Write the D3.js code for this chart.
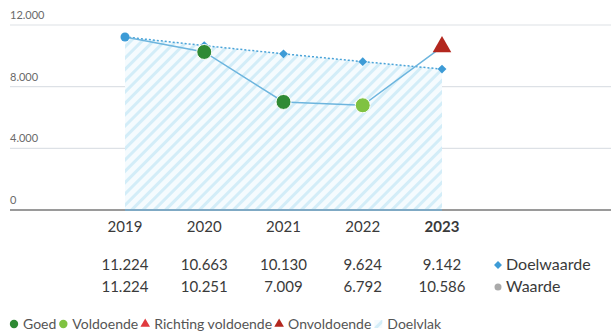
<!DOCTYPE html>
<html><head><meta charset="utf-8">
<script src="https://cdn.jsdelivr.net/npm/d3@7"></script>
<style>body{margin:0;background:#fff;}svg{display:block;font-family:Lato,"Open Sans",sans-serif;}</style>
</head><body><svg id="c" width="611" height="333"></svg>
<script>
const years = ["2019","2020","2021","2022","2023"];
const doelwaarde = [11224, 10663, 10130, 9624, 9142];
const waarde = [11224, 10251, 7009, 6792, 10586];
const status = ["start","goed","goed","voldoende","onvoldoende"];
const yTicks = [0, 4000, 8000, 12000];
const legendItems = [
  {label:"Goed", type:"goed"},
  {label:"Voldoende", type:"voldoende"},
  {label:"Richting voldoende", type:"richting"},
  {label:"Onvoldoende", type:"onvoldoende"},
  {label:"Doelvlak", type:"doelvlak"}
];

const colors = {start:"#3d9bd6", goed:"#2f8a34", voldoende:"#7fc241", richting:"#e03a3e", onvoldoende:"#b3271f"};
const loc = d3.formatLocale({decimal:",", thousands:".", grouping:[3], currency:["",""]});
const fmt = loc.format(",d");

const svg = d3.select("#c");
const defs = svg.append("defs");
const pat = defs.append("pattern").attr("id","hatch").attr("patternUnits","userSpaceOnUse")
  .attr("width",8).attr("height",8).attr("patternTransform","rotate(45)");
pat.append("rect").attr("width",8).attr("height",8).attr("fill","#f5fbfe");
pat.append("rect").attr("width",3).attr("height",8).attr("fill","#d3edf8");

const x = d3.scalePoint().domain(years).range([125, 442]);
const y = d3.scaleLinear().domain([0, 12000]).range([210, 25]);

// gridlines
svg.append("g").selectAll("line").data(yTicks.filter(d=>d>0)).join("line")
  .attr("x1",10).attr("x2",611).attr("y1",d=>y(d)).attr("y2",d=>y(d))
  .attr("stroke","#dde1e6").attr("stroke-width",1.2);
svg.append("g").selectAll("text").data(yTicks).join("text")
  .attr("x",10).attr("y",d=>y(d)-6).attr("font-size",11).attr("fill","#6a6a6a")
  .text(d=>d===0?"0":fmt(d));

// doelvlak area
const area = d3.area().x((d,i)=>x(years[i])).y0(y(0)).y1(d=>y(d));
svg.append("path").datum(doelwaarde).attr("d",area).attr("fill","url(#hatch)");

// baseline
svg.append("line").attr("x1",10).attr("x2",611).attr("y1",y(0)).attr("y2",y(0))
  .attr("stroke","#9a9a9a").attr("stroke-width",2);
svg.append("line").attr("x1",x(years[0])).attr("x2",x(years[4])).attr("y1",y(0)).attr("y2",y(0))
  .attr("stroke","#7fa9c4").attr("stroke-width",2);

const line = d3.line().x((d,i)=>x(years[i])).y(d=>y(d));
svg.append("path").datum(doelwaarde).attr("d",line).attr("fill","none")
  .attr("stroke","#4aa3d8").attr("stroke-width",1.5).attr("stroke-dasharray","2,2");
svg.append("path").datum(waarde).attr("d",line).attr("fill","none")
  .attr("stroke","#6db5de").attr("stroke-width",1.5);

// diamonds
svg.append("g").selectAll("path").data(doelwaarde.slice(1)).join("path")
  .attr("transform",(d,i)=>`translate(${x(years[i+1])},${y(d)})`)
  .attr("d",d3.symbol().type(d3.symbolDiamond2).size(50)).attr("fill","#3d9bd6");

// waarde markers
const mk = svg.append("g");
waarde.forEach((v,i)=>{
  const s = status[i], cx = x(years[i]), cy = y(v);
  if (s==="start") mk.append("circle").attr("cx",cx).attr("cy",cy).attr("r",4.5).attr("fill",colors.start);
  else if (s==="goed"||s==="voldoende") mk.append("circle").attr("cx",cx).attr("cy",cy).attr("r",7.5)
      .attr("fill",colors[s]).attr("stroke","#fff").attr("stroke-width",1);
  else mk.append("path").attr("transform",`translate(${cx},${cy})`)
      .attr("d",d3.symbol().type(d3.symbolTriangle).size(150)).attr("fill",colors[s]);
});

// x labels
svg.append("g").selectAll("text").data(years).join("text")
  .attr("x",d=>x(d)).attr("y",232).attr("text-anchor","middle").attr("font-size",15)
  .attr("fill","#3a3a3a").attr("font-weight",(d,i)=>i===years.length-1?"bold":"normal").text(d=>d);

// table
svg.append("g").selectAll("text").data(doelwaarde).join("text")
  .attr("x",(d,i)=>x(years[i])).attr("y",270).attr("text-anchor","middle").attr("font-size",15)
  .attr("fill","#3a3a3a").text(d=>fmt(d));
svg.append("g").selectAll("text").data(waarde).join("text")
  .attr("x",(d,i)=>x(years[i])).attr("y",292).attr("text-anchor","middle").attr("font-size",15)
  .attr("fill","#3a3a3a").text(d=>fmt(d));
svg.append("path").attr("transform","translate(498,265)")
  .attr("d",d3.symbol().type(d3.symbolDiamond2).size(40)).attr("fill","#3d9bd6");
svg.append("text").attr("x",506).attr("y",270).attr("font-size",16).attr("fill","#3a3a3a").text("Doelwaarde");
svg.append("circle").attr("cx",498).attr("cy",287).attr("r",3.5).attr("fill","#aaa");
svg.append("text").attr("x",506).attr("y",292).attr("font-size",16).attr("fill","#3a3a3a").text("Waarde");

// bottom legend
const lg = svg.append("g").attr("font-size",14).attr("fill","#555");
let lx = 10;
legendItems.forEach(it=>{
  const cy = 324;
  if (it.type==="goed"||it.type==="voldoende") lg.append("circle").attr("cx",lx+4).attr("cy",cy).attr("r",4.2).attr("fill",colors[it.type]);
  else if (it.type==="doelvlak") lg.append("rect").attr("x",lx).attr("y",cy-4).attr("width",8).attr("height",8).attr("fill","url(#hatch)");
  else lg.append("path").attr("transform",`translate(${lx+4},${cy})`).attr("d",d3.symbol().type(d3.symbolTriangle).size(40)).attr("fill",colors[it.type]);
  const t = lg.append("text").attr("x",lx+13).attr("y",cy+4.5).attr("fill","#555").text(it.label);
  lx += 13 + t.node().getComputedTextLength() + 3;
});
</script></body></html>
